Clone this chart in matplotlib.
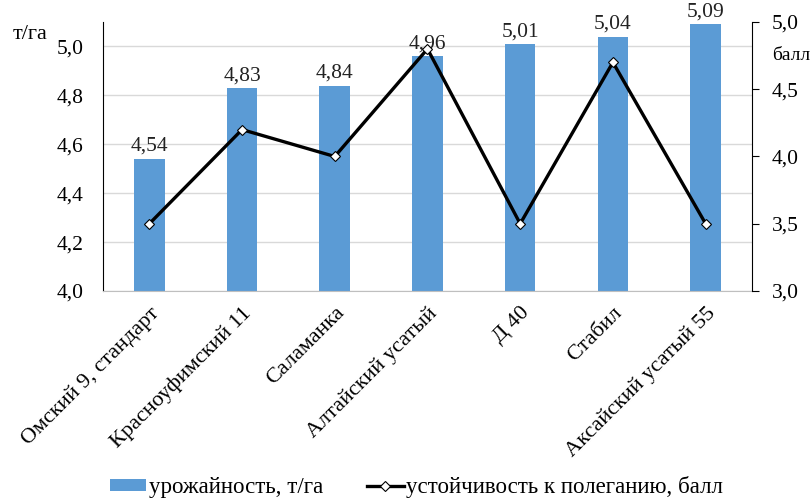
import matplotlib
matplotlib.use("Agg")
import matplotlib.pyplot as plt
from matplotlib.ticker import FuncFormatter, FixedLocator

plt.rcParams['font.family'] = ['Liberation Serif', 'DejaVu Serif']

varieties = ["Омский 9, стандарт", "Красноуфимский 11", "Саламанка",
             "Алтайский усатый", "Д 40", "Стабил", "Аксайский усатый 55"]
yield_t_ha = [4.54, 4.83, 4.84, 4.96, 5.01, 5.04, 5.09]
lodging_score = [3.5, 4.2, 4.0, 4.8, 3.5, 4.7, 3.5]
left_ticks = [4.0, 4.2, 4.4, 4.6, 4.8, 5.0]
right_ticks = [3.0, 3.5, 4.0, 4.5, 5.0]

BAR_COLOR = "#5B9BD5"
FS = 15.5
FS_CAT = 16
FS_LEG = 16.5


def comma(v, _pos=None):
    return f"{v:.1f}".replace(".", ",")


fig = plt.figure(figsize=(8.12, 4.98), dpi=100)
ax = fig.add_axes([0.1268, 0.4157, 0.7993, 0.5401])
x = list(range(len(varieties)))

bars = ax.bar(x, yield_t_ha, width=0.33, color=BAR_COLOR, zorder=2,
              label="урожайность, т/га")
ax.set_ylim(4.0, 5.1)
ax.set_xlim(-0.5, len(varieties) - 0.5)
ax.yaxis.set_major_locator(FixedLocator(left_ticks))
ax.yaxis.set_major_formatter(FuncFormatter(comma))
ax.grid(axis='y', color='#d9d9d9', linewidth=1, zorder=0)
ax.set_axisbelow(True)
ax.tick_params(axis='y', length=0, labelsize=FS, pad=14)
ax.tick_params(axis='x', length=0, labelsize=FS_CAT, pad=9)
ax.set_xticks(x)
ax.set_xticklabels(varieties, rotation=45, ha='right', rotation_mode='anchor')
for s in ('top', 'right'):
    ax.spines[s].set_visible(False)
ax.spines['left'].set_color('black')
ax.spines['bottom'].set_color('#bfbfbf')

for xi, v in zip(x, yield_t_ha):
    ax.text(xi, v + 0.012, f"{v:.2f}".replace(".", ","), ha='center',
            va='bottom', fontsize=FS, color='#222222', zorder=5)

ax2 = ax.twinx()
ax2.plot(x, lodging_score, color='black', linewidth=2.4, marker='D',
         markersize=5, markerfacecolor='white', markeredgecolor='black',
         markeredgewidth=0.8, zorder=4, label="устойчивость к полеганию, балл")
ax2.set_ylim(3.0, 5.0)
ax2.yaxis.set_major_locator(FixedLocator(right_ticks))
ax2.yaxis.set_major_formatter(FuncFormatter(comma))
ax2.tick_params(axis='y', direction='out', length=5, labelsize=FS, pad=9,
                color='black')
for s in ('top', 'left', 'bottom'):
    ax2.spines[s].set_visible(False)
ax2.spines['right'].set_color('black')

fig.text(0.015, 0.922, "т/га", fontsize=16, ha='left', va='baseline')
fig.text(0.998, 0.88, "балл", fontsize=14, ha='right', va='baseline')

handles = [bars, ax2.get_lines()[0]]
fig.legend(handles, [h.get_label() for h in handles], loc='center',
           bbox_to_anchor=(0.513, 0.022), ncol=2, frameon=False,
           fontsize=FS_LEG, handlelength=1.6, handleheight=0.45,
           handletextpad=0.12, columnspacing=1.9, borderpad=0.0)

fig.savefig("out.png", dpi=100)
